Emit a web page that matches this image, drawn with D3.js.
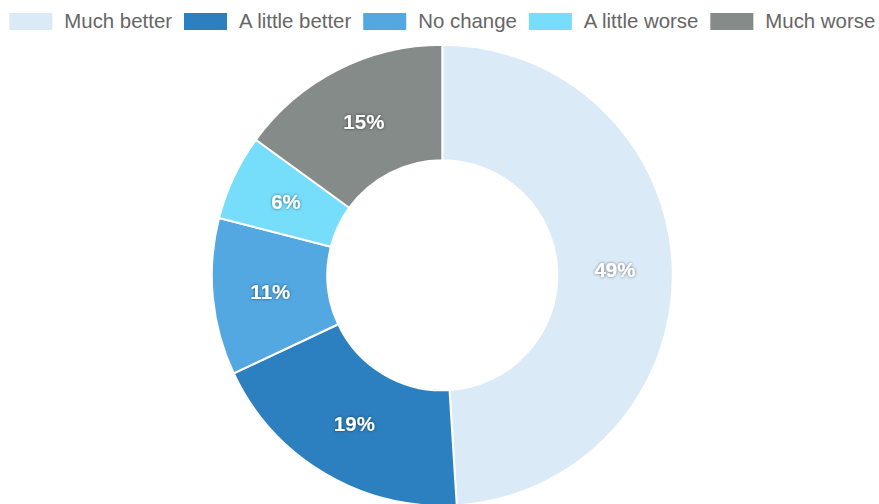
<!DOCTYPE html>
<html>
<head>
<meta charset="utf-8">
<script src="https://cdn.jsdelivr.net/npm/d3@7"></script>
<style>
  html, body { margin: 0; padding: 0; background: #fff; }
  svg { display: block; }
</style>
</head>
<body>
<svg id="chart" width="879" height="504"></svg>
<script>
// Survey responses, share of respondents (%)
const categories = ["Much better", "A little better", "No change", "A little worse", "Much worse"];
const values = [49, 19, 11, 6, 15];
const colors = ["#dbeaf7", "#2c80bf", "#53a8e2", "#76ddfb", "#848b89"];

const W = 879, H = 504;
const cx = 442.3, cy = 275.3, outerR = 230.5, innerR = 115;
const svg = d3.select("#chart");

const defs = svg.append("defs");
const shadow = defs.append("filter").attr("id", "lblShadow")
  .attr("x", "-30%").attr("y", "-30%").attr("width", "160%").attr("height", "160%");
shadow.append("feDropShadow")
  .attr("dx", 0).attr("dy", 0).attr("stdDeviation", 1.6)
  .attr("flood-color", "#000").attr("flood-opacity", 0.55);

const color = d3.scaleOrdinal().domain(categories).range(colors);

// Legend across the top, centred over the doughnut
const legendFont = "20.4px 'Liberation Sans', Arial, sans-serif";
const boxW = 43, boxH = 17, boxGap = 12, itemGap = 12;
const legend = svg.append("g").attr("class", "legend");
const items = legend.selectAll("g.item").data(categories).join("g").attr("class", "item");
items.append("rect")
  .attr("width", boxW).attr("height", boxH)
  .attr("y", 13)
  .attr("fill", d => color(d));
items.append("text")
  .attr("x", boxW + boxGap)
  .attr("y", 27.5)
  .style("font", legendFont)
  .attr("fill", "#666")
  .text(d => d);

let widths = [];
items.each(function() {
  widths.push(boxW + boxGap + d3.select(this).select("text").node().getComputedTextLength());
});
const total = d3.sum(widths) + itemGap * (widths.length - 1);
let x0 = cx - total / 2;
items.attr("transform", (d, i) => {
  const t = `translate(${x0},0)`;
  x0 += widths[i] + itemGap;
  return t;
});

// Doughnut
const pie = d3.pie().sort(null).value(d => d.value);
const arcs = pie(categories.map((c, i) => ({ cat: c, value: values[i] })));
const arc = d3.arc().innerRadius(innerR).outerRadius(outerR);
const labelArc = d3.arc().innerRadius((innerR + outerR) / 2).outerRadius((innerR + outerR) / 2);

const g = svg.append("g").attr("transform", `translate(${cx},${cy})`);
g.selectAll("path").data(arcs).join("path")
  .attr("d", arc)
  .attr("fill", d => color(d.data.cat))
  .attr("stroke", "#fff")
  .attr("stroke-width", 2)
  .attr("stroke-linejoin", "round");

const sum = d3.sum(values);
g.selectAll("text.val").data(arcs).join("text")
  .attr("class", "val")
  .attr("transform", d => `translate(${labelArc.centroid(d)})`)
  .attr("text-anchor", "middle")
  .attr("dy", "0.36em")
  .attr("fill", "#fff")
  .attr("filter", "url(#lblShadow)")
  .style("font", "bold 20.5px 'Liberation Sans', Arial, sans-serif")
  .text(d => Math.round(d.data.value / sum * 100) + "%");
</script>
</body>
</html>
